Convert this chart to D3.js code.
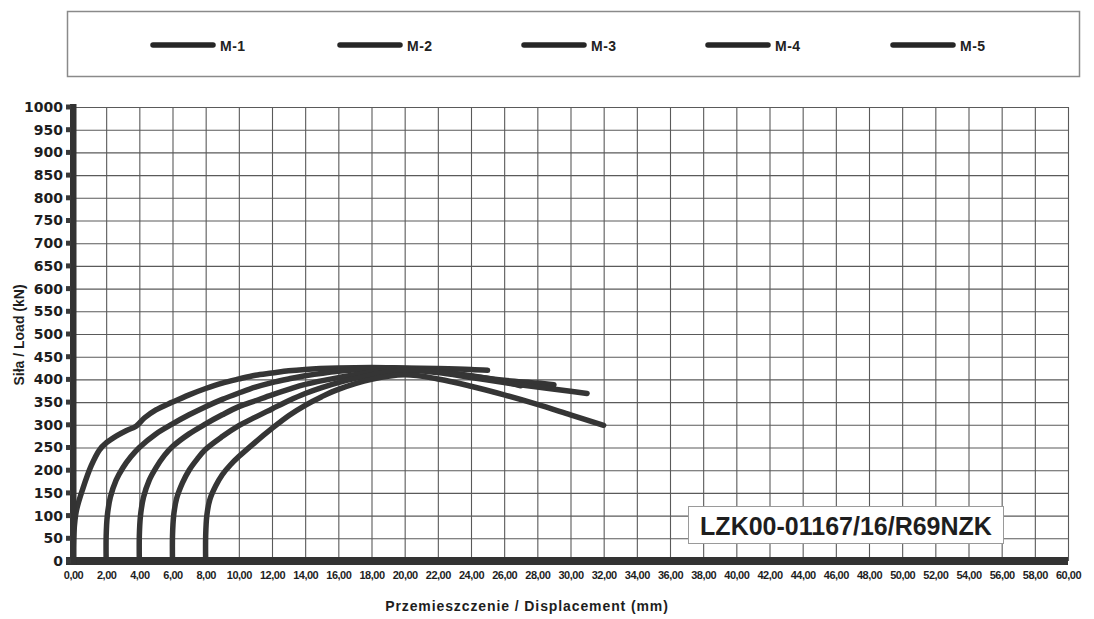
<!DOCTYPE html>
<html><head><meta charset="utf-8">
<script src="https://cdn.jsdelivr.net/npm/d3@7"></script>
<style>body{margin:0;background:#fff;} svg{display:block;}</style>
</head><body>
<svg id="c" width="1094" height="619"></svg>
<script>
// ---- data ----
const seriesNames = ["M-1", "M-2", "M-3", "M-4", "M-5"];
const m1 = [[0,0],[0.05,60],[0.2,110],[0.6,160],[1.1,210],[1.6,245],[2.0,260],[2.6,275],[3.2,287],[3.8,297],[4.3,315],[5.0,333],[6.0,350],[7.0,366],[8.0,380],[9.0,392],[10,401],[11,409],[12,414],[13,419],[14,422],[16,425],[18,426],[20,425],[22,424],[24,422],[25,420]];
const m2 = [[2,0],[2,55],[2.07,100],[2.25,140],[2.6,178],[3.0,205],[3.5,230],[4.0,250],[5.0,280],[6.0,302],[7.0,322],[8.0,340],[9.0,356],[10,370],[11,383],[12,393],[13,401],[14,408],[16,418],[18,423],[20,424],[22,418],[24,408],[26,395],[27,386]];
const m3 = [[4,0],[4,55],[4.07,100],[4.25,140],[4.6,178],[5.0,205],[5.5,232],[6.0,252],[7.0,280],[8.0,302],[9.0,322],[10,340],[11,353],[12,366],[13,378],[14,389],[16,404],[18,416],[20,422],[22,417],[24,407],[26,398],[28,392],[29,388]];
const m4 = [[6,0],[6,55],[6.07,100],[6.25,138],[6.6,172],[7.0,200],[7.5,225],[8.0,246],[9.0,274],[10,298],[11,317],[12,335],[13,353],[14,369],[15,382],[16,393],[18,410],[20,420],[22,415],[24,404],[26,393],[28,383],[30,374],[31,369]];
const m5 = [[8,0],[8,55],[8.07,100],[8.25,135],[8.6,165],[9.0,190],[9.5,212],[10,230],[11,262],[12,292],[13,320],[14,343],[15,362],[16,378],[18,400],[20,410],[22,401],[24,385],[26,366],[28,345],[30,322],[32,299]];
const seriesData = [m1, m2, m3, m4, m5];
const xTicks = [0,2,4,6,8,10,12,14,16,18,20,22,24,26,28,30,32,34,36,38,40,42,44,46,48,50,52,54,56,58,60];
const xTickLabels = ["0,00","2,00","4,00","6,00","8,00","10,00","12,00","14,00","16,00","18,00","20,00","22,00","24,00","26,00","28,00","30,00","32,00","34,00","36,00","38,00","40,00","42,00","44,00","46,00","48,00","50,00","52,00","54,00","56,00","58,00","60,00"];
const yTicks = [0,50,100,150,200,250,300,350,400,450,500,550,600,650,700,750,800,850,900,950,1000];
const yTitle = "Siła / Load (kN)";
const xTitle = "Przemieszczenie / Displacement (mm)";
const stampText = "LZK00-01167/16/R69NZK";

// ---- drawing ----
const svg = d3.select("#c");
const x = d3.scaleLinear().domain([0, 60]).range([73, 1068]);
const y = d3.scaleLinear().domain([0, 1000]).range([561, 107]);
const dark = "#353535";

// legend box
svg.append("rect").attr("x", 67.5).attr("y", 11.5).attr("width", 1012).attr("height", 65)
  .attr("fill", "#fff").attr("stroke", "#8a8a8a").attr("stroke-width", 1.5);
const legX = [153, 340, 524, 708, 893];
seriesNames.forEach((n, i) => {
  svg.append("line").attr("x1", legX[i]).attr("x2", legX[i] + 60).attr("y1", 45).attr("y2", 45)
    .attr("stroke", "#262626").attr("stroke-width", 5.5).attr("stroke-linecap", "round");
  svg.append("text").attr("x", legX[i] + 67).attr("y", 51).text(n)
    .attr("font-family", "Liberation Sans Narrow, Liberation Sans, Arial, sans-serif")
    .attr("font-weight", "bold").attr("font-size", 14).attr("fill", "#222").attr("letter-spacing", 0.5);
});

// grid
const gv = svg.append("g").attr("transform", `translate(0,${y(0)})`)
  .call(d3.axisBottom(x).tickValues(xTicks).tickSize(-(y(0) - y(1000))).tickFormat(""));
gv.select(".domain").remove();
gv.selectAll(".tick line").attr("stroke", "#5a5a5a").attr("stroke-width", 1.1);
const gh = svg.append("g").attr("transform", `translate(${x(0)},0)`)
  .call(d3.axisLeft(y).tickValues(yTicks).tickSize(-(x(60) - x(0))).tickFormat(""));
gh.select(".domain").remove();
gh.selectAll(".tick line").attr("stroke", "#5a5a5a").attr("stroke-width", 1.1);

// curves
const line = d3.line().x(d => x(d[0])).y(d => y(d[1])).curve(d3.curveCatmullRom.alpha(0.5));
seriesData.forEach(s => {
  svg.append("path").attr("d", line(s)).attr("fill", "none").attr("stroke", dark)
    .attr("stroke-width", 5.5).attr("stroke-linejoin", "round").attr("stroke-linecap", "round");
});

// axis bars
svg.append("rect").attr("x", x(0) - 7).attr("y", y(0) - 4).attr("width", x(60) - x(0) + 7).attr("height", 8).attr("fill", "#333");
svg.append("rect").attr("x", x(0) - 3).attr("y", y(1000) - 3).attr("width", 6.5).attr("height", y(0) - y(1000) + 7).attr("fill", "#333");
// y tick marks
svg.append("g").selectAll("rect").data(yTicks).join("rect")
  .attr("x", x(0) - 7).attr("y", d => y(d) - 2.5).attr("width", 5).attr("height", 5).attr("fill", "#3a3a3a");

// y tick labels
const ya = svg.append("g").attr("transform", `translate(${x(0) - 10},0)`)
  .call(d3.axisLeft(y).tickValues(yTicks).tickFormat(d => String(d)).tickSize(0).tickPadding(0));
ya.select(".domain").remove();
ya.selectAll("text").attr("font-family", "DejaVu Sans, sans-serif").attr("font-weight", "bold")
  .attr("font-size", 14).attr("fill", "#1e1e1e");

// x tick labels
const xa = svg.append("g").attr("transform", `translate(0,${y(0)})`)
  .call(d3.axisBottom(x).tickValues(xTicks).tickFormat((d, i) => xTickLabels[i]).tickSize(0).tickPadding(10));
xa.select(".domain").remove();
xa.selectAll("text").attr("font-family", "Liberation Sans, Arial, sans-serif").attr("font-weight", "bold")
  .attr("font-size", 11).attr("letter-spacing", -0.5).attr("fill", "#1e1e1e");

// titles
svg.append("text").attr("transform", "translate(24,335) rotate(-90)").attr("text-anchor", "middle")
  .attr("font-family", "Liberation Sans, Arial, sans-serif").attr("font-weight", "bold").attr("font-size", 14)
  .attr("fill", "#1e1e1e").text(yTitle);
svg.append("text").attr("x", 527).attr("y", 611).attr("text-anchor", "middle")
  .attr("font-family", "Liberation Sans, Arial, sans-serif").attr("font-weight", "bold").attr("font-size", 14)
  .attr("letter-spacing", 0.9).attr("fill", "#1e1e1e").text(xTitle);

// stamp
svg.append("rect").attr("x", 688.5).attr("y", 506.5).attr("width", 315).attr("height", 37)
  .attr("fill", "#fff").attr("stroke", "#9a9a9a").attr("stroke-width", 1);
svg.append("text").attr("x", 846).attr("y", 535).attr("text-anchor", "middle")
  .attr("font-family", "Liberation Sans, Arial, sans-serif").attr("font-weight", "bold").attr("font-size", 25)
  .attr("fill", "#1e1e1e").text(stampText);
</script>
</body></html>
